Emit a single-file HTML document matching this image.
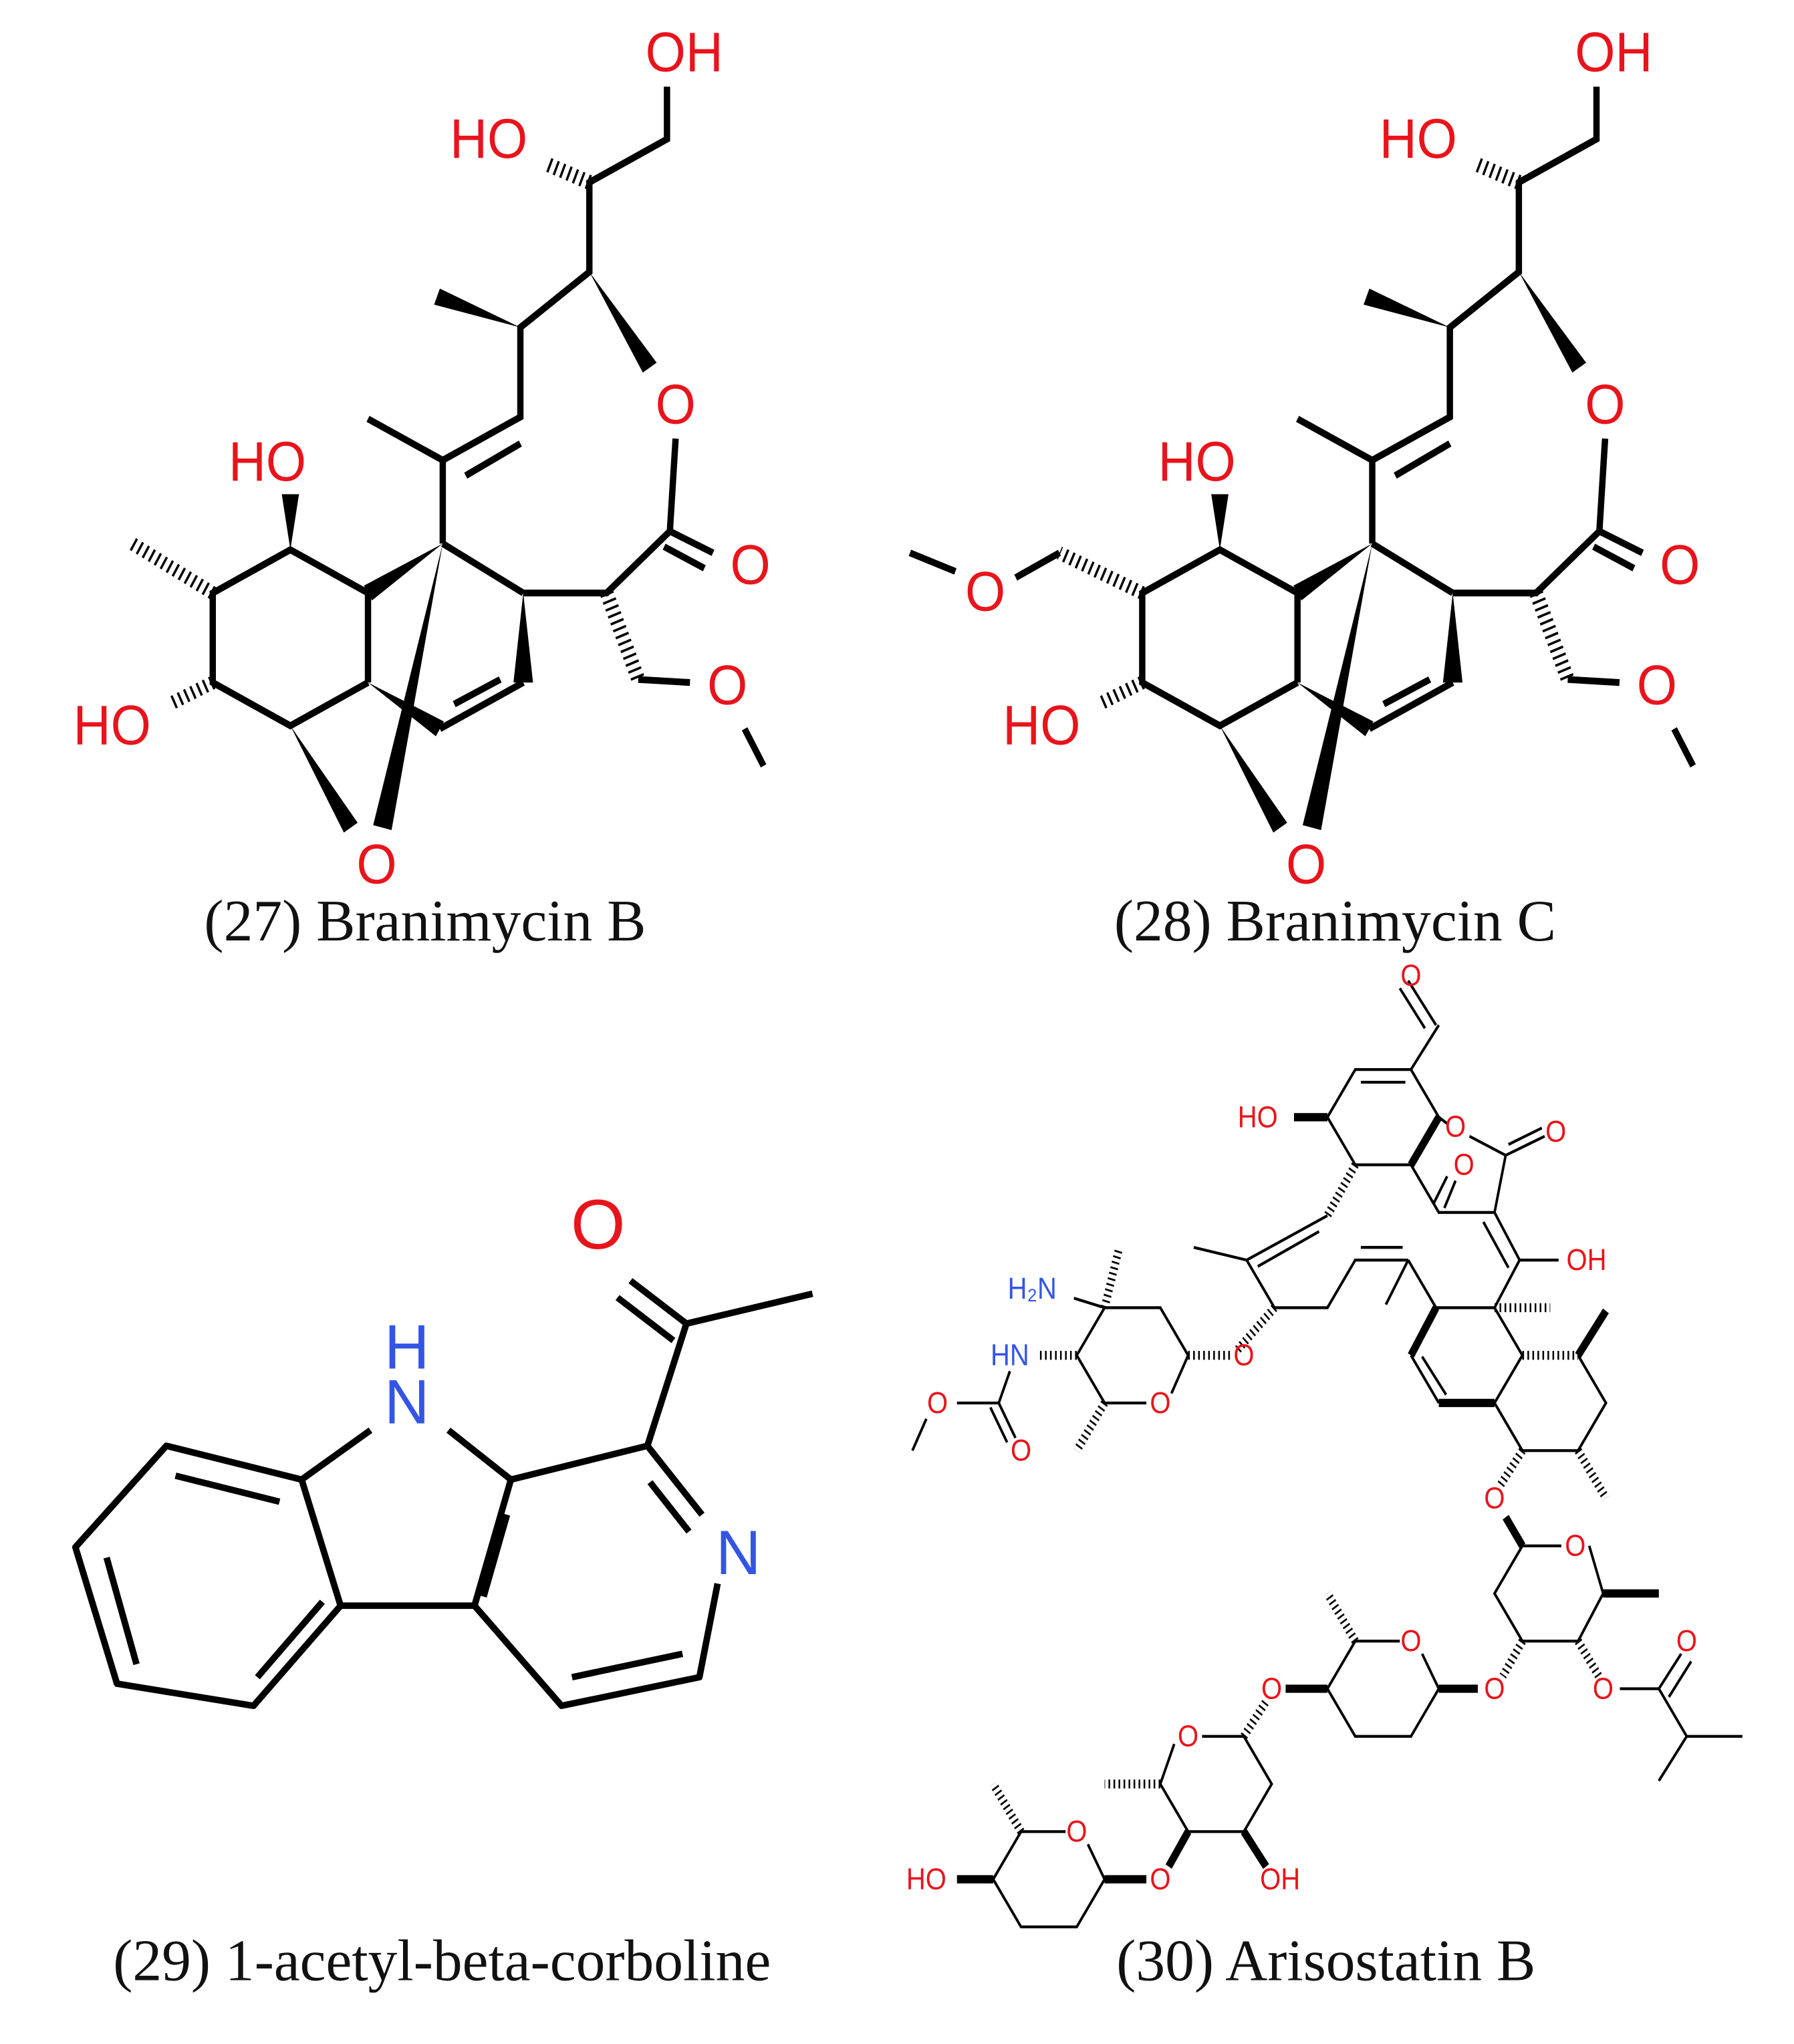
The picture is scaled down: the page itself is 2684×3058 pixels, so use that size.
<!DOCTYPE html>
<html><head><meta charset="utf-8"><style>
html,body{margin:0;padding:0;background:#fff}
svg{display:block}
.r{fill:#e8141c}
.b{fill:#3355e6}
text{font-family:"Liberation Sans",sans-serif;text-anchor:middle;dominant-baseline:central}
.cap{font-family:"Liberation Serif",serif;font-size:45px;fill:#111}
</style></head><body>
<svg xmlns="http://www.w3.org/2000/svg" width="2684" height="3058" viewBox="0 0 1380 1572">
<rect width="1380" height="1572" fill="#fff"/>
<defs>
<g id="bran" stroke="#000" stroke-width="11" fill="none" stroke-linecap="butt">
  <path d="M1160,140 L1160,225 L1025,295 L1025,440 L905,530 L905,675 L770,745 L640,678 M770,745 L770,880 M810,770 L905,718"/>
  <path d="M1175,710 L1165,860 L1055,960 L910,960 M1110,1100 L1200,1105 M1295,1180 L1328,1240 M1165,860 L1240,895 M1155,885 L1225,920"/>
  <path d="M770,880 L910,960 M910,1105 L765,1180 M790,1140 L870,1100 M640,960 L640,1105 M640,960 L505,890 L370,960 L370,1105 L505,1175 L640,1105"/>
  <path d="M1025,295 L950,265" stroke-width="24" stroke-dasharray="4 8"/>
  <path d="M1055,960 L1110,1100" stroke-width="24" stroke-dasharray="4 8"/>
  <path d="M370,1105 L295,1140" stroke-width="22" stroke-dasharray="4 8"/>
  <g fill="#000" stroke="none">
    <polygon points="1025,440 1118,603 1142,587"/>
    <polygon points="905,530 765,467 755,493"/>
    <polygon points="910,960 893,1105 927,1105"/>
    <polygon points="770,880 633,948 647,972"/>
    <polygon points="640,1105 758,1192 772,1168"/>
    <polygon points="770,880 649,1336 681,1344"/>
    <polygon points="505,1175 598,1348 622,1332"/>
    <polygon points="505,890 490,800 520,800"/>
  </g>
  <g stroke="none" font-size="90">
    <text x="1190" y="85" class="r">OH</text>
    <text x="850" y="225" class="r">HO</text>
    <text x="1175" y="655" class="r">O</text>
    <text x="1305" y="915" class="r">O</text>
    <text x="1265" y="1110" class="r">O</text>
    <text x="655" y="1400" class="r">O</text>
    <text x="465" y="748" class="r">HO</text>
    <text x="195" y="1175" class="r">HO</text>
  </g>
</g>
</defs>
<!-- 27 -->
<g transform="scale(0.4423,0.475)">
  <use href="#bran"/>
  <path d="M370,960 L230,880" stroke="#000" stroke-width="22" stroke-dasharray="4 8"/>
</g>
<text x="327" y="708" class="cap">(27) Branimycin B</text>
<!-- 28 -->
<g transform="translate(715,0) scale(0.4423,0.475)">
  <use href="#bran"/>
  <path d="M370,960 L226,895" stroke="#000" stroke-width="22" stroke-dasharray="4 8"/>
  <path d="M226,895 L150,935 M45,925 L-34,895" stroke="#000" stroke-width="11"/>
  <text x="97" y="958" font-size="90" class="r">O</text>
</g>
<text x="1027" y="708" class="cap">(28) Branimycin C</text>
<!-- 29 -->
<g stroke="#000" stroke-width="5" fill="none" stroke-linejoin="round">
  <path d="M485,985 L528,1018 M475,998 L518,1031"/>
  <path d="M528,1018 L625,995 M528,1018 L498,1112 L393,1138 L365,1235 L432,1312 L538,1290 L552,1218 M498,1112 L540,1165 M500,1140 L530,1178"/>
  <path d="M393,1138 L345,1100 M285,1100 L232,1138 L262,1235 L365,1235 M390,1165 L372,1228 M440,1290 L525,1272"/>
  <path d="M232,1138 L128,1112 L58,1190 L90,1295 L195,1312 L262,1235 M135,1135 L215,1155 M82,1198 L105,1280 M198,1290 L248,1232"/>
</g>
<text x="460" y="942" font-size="54" class="r">O</text>
<text x="313" y="1036" font-size="48" class="b">H</text>
<text x="313" y="1078" font-size="48" class="b">N</text>
<text x="568" y="1194" font-size="48" class="b">N</text>
<text x="340" y="1508" class="cap">(29) 1-acetyl-beta-corboline</text>
<!-- 30 -->
<g transform="translate(689,720) scale(0.4285,0.4885)" stroke="#000" stroke-width="4.5" fill="none">
  <path d="M920,70 L970,140 M905,82 L950,145 M975,140 L925,210 L825,210 L775,285 L825,360 L925,360 M925,210 L975,285 M835,230 L915,230 M975,285 L990,295 M1030,315 L1095,345 L1165,315 M1100,328 L1160,302 M1095,345 L1075,435 L975,435 L925,360 M985,428 L1005,385 M965,422 L990,378 M1075,435 L1120,510 M1055,450 L1100,522 M1120,510 L1190,510"/>
  <path d="M775,440 L630,510 M760,465 L650,520 M630,510 L535,490 M630,510 L680,585 L775,585 L825,510 L920,510 M835,490 L910,490 M920,510 L880,580 M920,510 L970,585 L1075,585 L1120,510 M1075,585 L1125,660 M925,660 L975,735 M945,662 L988,722 M1075,735 L1125,660 M1225,660 L1275,735 L1225,810 L1125,810 L1075,735"/>
  <path d="M1125,960 L1195,960 M1245,960 L1270,1035 L1225,1110 L1125,1110 L1075,1035 L1125,960 M1300,1185 L1370,1185 L1410,1130 M1388,1198 L1428,1142 M1370,1185 L1420,1260 L1520,1260 M1420,1260 L1370,1330"/>
  <path d="M975,1185 L945,1130 M905,1110 L825,1110 L775,1185 L825,1260 L925,1260 L975,1185 M625,1260 L550,1260 M500,1272 L475,1335 L525,1410 L625,1410 L675,1335 L625,1260 M375,1485 L345,1430 M305,1410 L225,1410 L175,1485 L225,1560 L325,1560 L375,1485"/>
  <path d="M320,570 L375,585 L475,585 L525,660 L495,720 M450,735 L375,735 L325,660 L375,585 M205,685 L185,735 L215,790 M170,742 L200,797 M185,735 L110,735 M55,760 L30,810"/>
  <g stroke-width="14" stroke-dasharray="3 6">
    <path d="M825,360 L775,440 M680,585 L610,655 M1075,585 L1175,585 M1125,660 L1225,660 M1225,810 L1275,885 M1125,810 L1085,865 M1225,1110 L1262,1165 M1125,1110 L1090,1165 M825,1110 L775,1035 M625,1260 L665,1205 M475,1335 L375,1335 M225,1410 L175,1335 M375,585 L400,495 M525,660 L600,660 M375,735 L325,810 M325,660 L255,660"/>
  </g>
  <g stroke-width="13">
    <path d="M775,285 L715,285 M925,360 L975,285 M970,585 L925,660 M1075,735 L975,735 M1225,660 L1275,590 M1125,960 L1095,915 M1270,1035 L1370,1035 M975,1185 L1045,1185 M775,1185 L700,1185 M625,1410 L665,1465 M525,1410 L490,1465 M375,1485 L450,1485 M175,1485 L110,1485"/>
  </g>
  <g stroke="none" font-size="48">
    <text x="925" y="62" class="r">O</text>
    <text x="1005" y="300" class="r">O</text>
    <text x="1185" y="308" class="r">O</text>
    <text x="1020" y="360" class="r">O</text>
    <text x="650" y="285" class="r">HO</text>
    <text x="1240" y="510" class="r">OH</text>
    <text x="245" y="555" class="b">H₂N</text>
    <text x="205" y="660" class="b">HN</text>
    <text x="625" y="660" class="r">O</text>
    <text x="475" y="735" class="r">O</text>
    <text x="75" y="735" class="r">O</text>
    <text x="225" y="810" class="r">O</text>
    <text x="1075" y="885" class="r">O</text>
    <text x="1220" y="960" class="r">O</text>
    <text x="1270" y="1185" class="r">O</text>
    <text x="1075" y="1185" class="r">O</text>
    <text x="1420" y="1110" class="r">O</text>
    <text x="925" y="1110" class="r">O</text>
    <text x="675" y="1185" class="r">O</text>
    <text x="525" y="1260" class="r">O</text>
    <text x="325" y="1410" class="r">O</text>
    <text x="475" y="1485" class="r">O</text>
    <text x="690" y="1485" class="r">OH</text>
    <text x="55" y="1485" class="r">HO</text>
  </g>
</g>
<text x="1020" y="1508" class="cap">(30) Arisostatin B</text>
</svg>
</body></html>
